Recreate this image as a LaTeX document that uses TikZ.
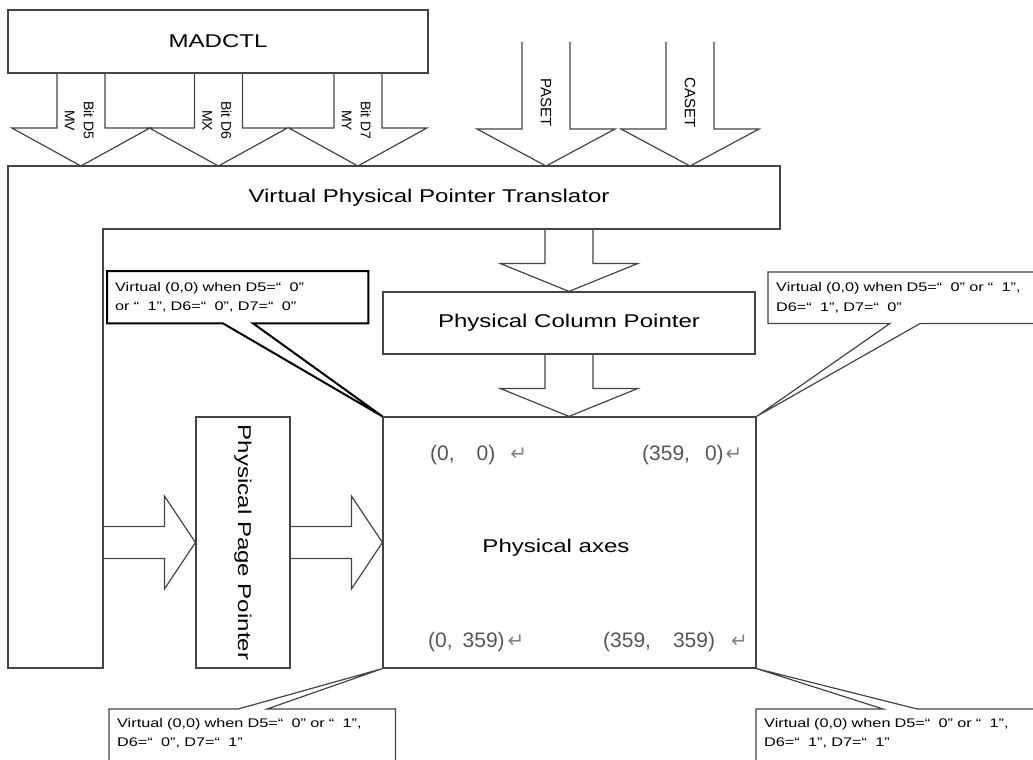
\documentclass[tikz,border=0pt]{standalone}
\usepackage{fontspec}
\setmainfont{Liberation Sans}
\newfontfamily\widefont{Liberation Sans}[FakeStretch=1.3]
\newfontfamily\symfont{DejaVu Sans}
\usepackage{tikz}
\usetikzlibrary{calc,positioning}
\definecolor{linegray}{HTML}{444444}
\definecolor{textgray}{HTML}{555555}
\tikzset{
  blk/.style={draw=linegray, line width=1.2pt, inner sep=0pt, font=\widefont\fontsize{18.5}{22}\selectfont},
  lbl/.style={inner sep=0pt, font=\widefont\fontsize{18.5}{22}\selectfont},
  blkarr/.style={draw=linegray, line width=1.2pt},
  arrlbl/.style={rotate=-90, align=center, inner sep=0pt, font=\fontsize{14}{19}\selectfont},
  callbox/.style={anchor=north west, align=left, inner xsep=8pt, inner ysep=0pt, font=\widefont\fontsize{12.5}{19.5}\selectfont},
  callline/.style={draw=linegray, line width=1.2pt},
  crd/.style={anchor=west, inner sep=0pt, text=textgray, font=\fontsize{21}{24}\selectfont},
}
% block arrows: #1 start, #2 tip, #3 half shaft, #4 half head, #5 head length
\newcommand{\blkdown}[5]{%
  \draw[blkarr] let \p1=(#1), \p2=(#2) in
    (\x1-#3,\y1) -- (\x1-#3,\y2+#5) -- (\x1-#4,\y2+#5) -- (\x1,\y2)
    -- (\x1+#4,\y2+#5) -- (\x1+#3,\y2+#5) -- (\x1+#3,\y1);}
\newcommand{\blkright}[5]{%
  \draw[blkarr] let \p1=(#1), \p2=(#2) in
    (\x1,\y1+#3) -- (\x2-#5,\y1+#3) -- (\x2-#5,\y1+#4) -- (\x2,\y1)
    -- (\x2-#5,\y1-#4) -- (\x2-#5,\y1-#3) -- (\x1,\y1-#3);}
\newcommand{\ret}{{\symfont\fontsize{20}{20}\selectfont\color{gray}↵}}

\begin{document}
\begin{tikzpicture}[x=1pt,y=-1pt]
  \useasboundingbox (0,0) rectangle (1033,760);
  \clip (0,0) rectangle (1033,760);

  % translator frame
  \draw[blkarr] (8,166) -- (780,166) -- (780,229) -- (103,229) -- (103,668) -- (8,668) -- cycle;
  \coordinate (ttop) at (0,166);
  \coordinate (tbot) at (0,229);
  \coordinate (tin) at (103,0);
  \node[lbl] (trans) at (429,198) {Virtual Physical Pointer Translator};

  \node[blk, minimum width=420pt, minimum height=63pt] (madctl) at (218,41.5) {MADCTL};
  \node[blk, minimum width=372pt, minimum height=62pt] (colptr) at (569,323) {Physical Column Pointer};
  \node[blk, rotate=-90, minimum width=251pt, minimum height=94pt] (pageptr) at (243,542.5) {Physical Page Pointer};
  \node[blk, minimum width=373pt, minimum height=251pt] (axes) at (569.5,542.5) {};
  \node[lbl] (axeslbl) at (556,548) {Physical axes};

  % MADCTL bits
  \foreach \nm/\dx/\bit/\sig in {d5/73.5/D5/MV, d6/211/D6/MX, d7/350.5/D7/MY}{
    \coordinate (\nm) at ($(madctl.south west)+(\dx,0)$);
    \blkdown{\nm}{\nm |- ttop}{24pt}{69pt}{38pt}
    \node[arrlbl] (lbl\nm) at ($(\nm)+(-1.5,47)$) {Bit \bit\\\sig};
  }
  % PASET / CASET
  \foreach \nm/\x/\txt in {pa/546/PASET, ca/690/CASET}{
    \coordinate (\nm) at (\x,42);
    \blkdown{\nm}{\nm |- ttop}{24pt}{69pt}{37pt}
    \node[arrlbl, font=\fontsize{15}{18}\selectfont] (lbl\nm) at (\x,103) {\txt};
  }
  \blkdown{colptr.north |- tbot}{colptr.north}{24pt}{69pt}{28pt}
  \blkdown{colptr.south}{axes.north}{24pt}{69pt}{28pt}
  \blkright{tin |- pageptr.south}{pageptr.south}{16pt}{46.5pt}{31pt}
  \blkright{pageptr.north}{axes.west}{16pt}{46.5pt}{31pt}

  % coordinates
  \node[crd] (c00) at (430,455) {(0,\hspace{22pt}0)\hspace{15pt}\ret};
  \node[crd] (c10) at (642,455) {(359,\hspace{15pt}0)\hspace{2pt}\ret};
  \node[crd] (c01) at (428,642) {(0,\hspace{10pt}359)\hspace{3pt}\ret};
  \node[crd] (c11) at (603,642) {(359,\hspace{22pt}359)\hspace{16pt}\ret};

  % callouts
  \node[callbox, minimum width=261pt, minimum height=52pt, text width=245pt] (cTL) at (107,271)
    {Virtual (0,0) when D5=“\ \ 0”\\or “\ \ 1”, D6=“\ \ 0”, D7=“\ \ 0”};
  \draw[callline, draw=black, line width=2pt] (cTL.north west) -- (cTL.north east) -- (cTL.south east)
    -- ($(cTL.south west)!.559!(cTL.south east)$) -- (axes.north west)
    -- ($(cTL.south west)!.444!(cTL.south east)$) -- (cTL.south west) -- cycle;

  \node[callbox, minimum width=277pt, minimum height=51pt, text width=261pt] (cTR) at (768,272)
    {Virtual (0,0) when D5=“\ \ 0” or “\ \ 1”,\\D6=“\ \ 1”, D7=“\ \ 0”};
  \draw[callline] (cTR.north west) -- (cTR.north east) -- (cTR.south east)
    -- ($(cTR.south west)!.549!(cTR.south east)$) -- (axes.north east)
    -- ($(cTR.south west)!.44!(cTR.south east)$) -- (cTR.south west) -- cycle;

  \node[callbox, minimum width=286pt, minimum height=48pt, text width=270pt] (cBL) at (109,709)
    {Virtual (0,0) when D5=“\ \ 0” or “\ \ 1”,\\D6=“\ \ 0”, D7=“\ \ 1”};
  \draw[callline] ($(cBL.south west)+(0,30)$) -- (cBL.north west)
    -- ($(cBL.north west)!.451!(cBL.north east)$) -- (axes.south west)
    -- ($(cBL.north west)!.552!(cBL.north east)$) -- (cBL.north east) -- ($(cBL.south east)+(0,30)$);

  \node[callbox, minimum width=289pt, minimum height=48pt, text width=273pt] (cBR) at (756,709)
    {Virtual (0,0) when D5=“\ \ 0” or “\ \ 1”,\\D6=“\ \ 1”, D7=“\ \ 1”};
  \draw[callline] ($(cBR.south west)+(0,30)$) -- (cBR.north west)
    -- ($(cBR.north west)!.439!(cBR.north east)$) -- (axes.south east)
    -- ($(cBR.north west)!.557!(cBR.north east)$) -- (cBR.north east) -- ($(cBR.south east)+(0,30)$);
\end{tikzpicture}
\end{document}
